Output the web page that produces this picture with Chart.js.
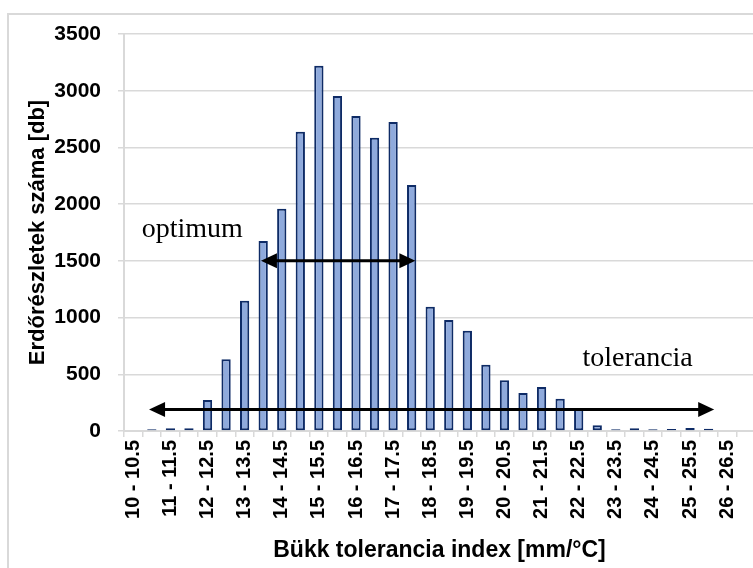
<!DOCTYPE html>
<html>
<head>
<meta charset="utf-8">
<script src="https://cdn.jsdelivr.net/npm/chart.js@4.4.1/dist/chart.umd.min.js"></script>
<style>
  html, body { margin: 0; padding: 0; background: #fff; overflow: hidden; width: 753px; height: 568px; }
  #frame { position: absolute; left: 7px; top: 13px; width: 900px; height: 700px; border-left: 2px solid #d9d9d9; border-top: 2px solid #d9d9d9; }
  #bukkChart { position: absolute; left: 0; top: 0; }
</style>
</head>
<body>
<div id="frame"></div>
<canvas id="bukkChart" width="780" height="568"></canvas>
<script>
// tolerance index classes (the last one sits just outside the cropped picture)
const categories = [
  '10 - 10.5', '10.5 - 11', '11 - 11.5', '11.5 - 12', '12 - 12.5', '12.5 - 13',
  '13 - 13.5', '13.5 - 14', '14 - 14.5', '14.5 - 15', '15 - 15.5', '15.5 - 16',
  '16 - 16.5', '16.5 - 17', '17 - 17.5', '17.5 - 18', '18 - 18.5', '18.5 - 19',
  '19 - 19.5', '19.5 - 20', '20 - 20.5', '20.5 - 21', '21 - 21.5', '21.5 - 22',
  '22 - 22.5', '22.5 - 23', '23 - 23.5', '23.5 - 24', '24 - 24.5', '24.5 - 25',
  '25 - 25.5', '25.5 - 26', '26 - 26.5', '26.5 - 27'
];

// number of forest stands per class
const standCounts = [
  0, 15, 24, 24, 273, 632,
  1149, 1675, 1960, 2639, 3221, 2954,
  2778, 2586, 2725, 2169, 1096, 979,
  884, 585, 447, 335, 388, 285,
  197, 50, 15, 24, 15, 18,
  27, 20, 0, 0
];

const yTicks = [0, 500, 1000, 1500, 2000, 2500, 3000, 3500];

// double arrows: [from category, to category], level in db
const optimumSpan = [6.88, 15.2];
const optimumLevel = 1500;
const toleranceSpan = [0.85, 31.3];
const toleranceLevel = 190;

// annotation texts anchored in axis units (category index, db)
const noteTexts = ['optimum', 'tolerancia'];
const noteX = [0.45, 24.2];
const noteY = [1710, 573];

const arrowPlugin = {
  id: 'arrowNotes',
  afterDatasetsDraw(chart) {
    const ctx = chart.ctx;
    const xs = chart.scales.x, ys = chart.scales.y;

    function arrow(span, level) {
      const x1 = xs.getPixelForValue(span[0]);
      const x2 = xs.getPixelForValue(span[1]);
      const yy = ys.getPixelForValue(level);
      const head = 16, half = 7.5;
      ctx.strokeStyle = '#000';
      ctx.fillStyle = '#000';
      ctx.lineWidth = 3;
      ctx.beginPath();
      ctx.moveTo(x1 + head - 2, yy);
      ctx.lineTo(x2 - head + 2, yy);
      ctx.stroke();
      ctx.beginPath();
      ctx.moveTo(x1, yy);
      ctx.lineTo(x1 + head, yy - half);
      ctx.lineTo(x1 + head, yy + half);
      ctx.closePath();
      ctx.fill();
      ctx.beginPath();
      ctx.moveTo(x2, yy);
      ctx.lineTo(x2 - head, yy - half);
      ctx.lineTo(x2 - head, yy + half);
      ctx.closePath();
      ctx.fill();
    }

    ctx.save();
    arrow(optimumSpan, optimumLevel);
    arrow(toleranceSpan, toleranceLevel);

    ctx.font = '28px "Liberation Serif", "Times New Roman", serif';
    ctx.fillStyle = '#000';
    ctx.textAlign = 'left';
    ctx.textBaseline = 'alphabetic';
    noteTexts.forEach((t, i) => {
      ctx.fillText(t, xs.getPixelForValue(noteX[i]), ys.getPixelForValue(noteY[i]));
    });
    ctx.restore();
  }
};

window.onload = function () {
  const ctx = document.getElementById('bukkChart').getContext('2d');
  const axisFont = { family: "'Liberation Sans', Arial, sans-serif", weight: 'bold' };

  new Chart(ctx, {
    type: 'bar',
    data: {
      labels: categories,
      datasets: [{
        label: 'Erdőrészletek',
        data: standCounts,
        backgroundColor: '#8faadc',
        borderColor: '#0e2b66',
        borderWidth: 2,
        borderSkipped: false,
        barPercentage: 0.5,
        categoryPercentage: 1
      }]
    },
    options: {
      responsive: false,
      animation: false,
      devicePixelRatio: 1,
      layout: { padding: { left: 0, top: 34, right: 25, bottom: 3 } },
      plugins: {
        legend: { display: false },
        tooltip: { enabled: false }
      },
      scales: {
        x: {
          afterFit: function (scale) { scale.height = 568 - 431 - 3; },
          grid: {
            display: true,
            drawOnChartArea: false,
            drawTicks: true,
            tickLength: 6,
            color: '#d9d9d9',
            lineWidth: 1.5,
            offset: true
          },
          border: { color: '#d9d9d9', width: 2 },
          ticks: {
            autoSkip: false,
            minRotation: 90,
            maxRotation: 90,
            padding: 3,
            color: '#000',
            font: Object.assign({ size: 20 }, axisFont),
            callback: function (value, index) {
              return index % 2 === 0 ? this.getLabelForValue(value) : '';
            }
          },
          title: {
            display: true,
            text: 'Bükk tolerancia index [mm/°C]',
            color: '#000',
            font: Object.assign({ size: 23 }, axisFont),
            padding: { top: 0, bottom: 1 }
          }
        },
        y: {
          min: 0,
          max: 3500,
          afterFit: function (scale) { scale.width = 124; },
          afterBuildTicks: function (scale) {
            scale.ticks = yTicks.map(v => ({ value: v }));
          },
          grid: {
            color: '#d9d9d9',
            lineWidth: 1.5,
            tickLength: 6
          },
          border: { color: '#d9d9d9', width: 2 },
          ticks: {
            padding: 17,
            color: '#000',
            font: Object.assign({ size: 21 }, axisFont),
            callback: function (value) { return String(value); }
          },
          title: {
            display: true,
            text: 'Erdőrészletek száma [db]',
            color: '#000',
            font: Object.assign({ size: 22 }, axisFont),
            padding: { top: 25, bottom: 0 }
          }
        }
      }
    },
    plugins: [arrowPlugin]
  });
};
</script>
</body>
</html>
